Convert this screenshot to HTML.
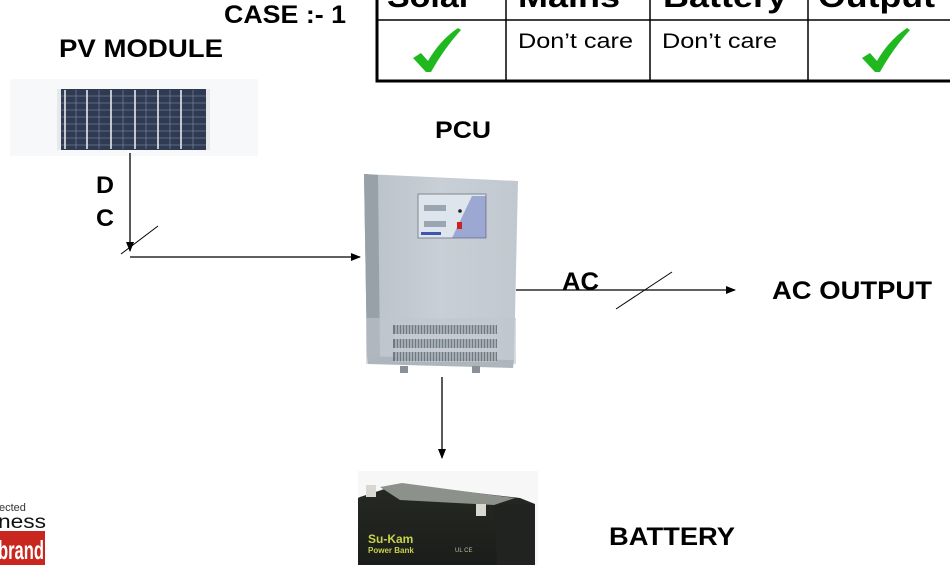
<!DOCTYPE html>
<html><head><meta charset="utf-8"><style>
html,body{margin:0;padding:0;background:#fff;}
svg{display:block;}
text{font-family:"Liberation Sans",Arial,sans-serif;}
</style></head><body>
<svg width="950" height="565" viewBox="0 0 950 565" xmlns="http://www.w3.org/2000/svg">
<defs>
<marker id="ah" markerWidth="10" markerHeight="8" refX="9" refY="4" orient="auto" markerUnits="userSpaceOnUse">
<path d="M0,0 L10,4 L0,8 Z" fill="#000"/>
</marker>
<linearGradient id="cab" x1="0" y1="0" x2="1" y2="0">
<stop offset="0" stop-color="#a3acb4"/><stop offset="0.1" stop-color="#bcc4cc"/><stop offset="0.5" stop-color="#c8cfd6"/><stop offset="1" stop-color="#c1c8cf"/>
</linearGradient>
<linearGradient id="bat" x1="0" y1="0" x2="0" y2="1">
<stop offset="0" stop-color="#262924"/><stop offset="1" stop-color="#1a1d19"/>
</linearGradient>
</defs>
<rect width="950" height="565" fill="#fff"/>

<!-- Table -->
<g>
<text x="387" y="7" font-size="31" font-weight="bold" textLength="85" lengthAdjust="spacingAndGlyphs">Solar</text>
<text x="518" y="7" font-size="31" font-weight="bold" textLength="102" lengthAdjust="spacingAndGlyphs">Mains</text>
<text x="663" y="7" font-size="31" font-weight="bold" textLength="124" lengthAdjust="spacingAndGlyphs">Battery</text>
<text x="818" y="7" font-size="31" font-weight="bold" textLength="117" lengthAdjust="spacingAndGlyphs">Output</text>
<rect x="377" y="-10" width="590" height="91" fill="none" stroke="#000" stroke-width="3"/>
<line x1="377" y1="20" x2="950" y2="20" stroke="#000" stroke-width="1.5"/>
<line x1="506" y1="0" x2="506" y2="81" stroke="#000" stroke-width="1.5"/>
<line x1="650" y1="0" x2="650" y2="81" stroke="#000" stroke-width="1.5"/>
<line x1="808" y1="0" x2="808" y2="81" stroke="#000" stroke-width="1.5"/>
<text x="518" y="48" font-size="21" textLength="115" lengthAdjust="spacingAndGlyphs">Don’t care</text>
<text x="662" y="48" font-size="21" textLength="115" lengthAdjust="spacingAndGlyphs">Don’t care</text>
<path d="M413,58 L421,53 L428,61 C436,47 446,36 458,28 L461,30 C450,42 440,56 431,72 L426,72 Z" fill="#1fb81f"/>
<path d="M862,58 L870,53 L877,61 C885,47 895,36 907,28 L910,30 C899,42 889,56 880,72 L875,72 Z" fill="#1fb81f"/>
</g>

<!-- Labels -->
<text x="224" y="23" font-size="25" font-weight="bold" textLength="122" lengthAdjust="spacingAndGlyphs">CASE :- 1</text>
<text x="59" y="57" font-size="25" font-weight="bold" textLength="164" lengthAdjust="spacingAndGlyphs">PV MODULE</text>
<text x="435" y="138" font-size="24" font-weight="bold" textLength="56" lengthAdjust="spacingAndGlyphs">PCU</text>
<text x="96" y="193" font-size="24" font-weight="bold" textLength="18" lengthAdjust="spacingAndGlyphs">D</text>
<text x="96" y="226" font-size="24" font-weight="bold" textLength="18" lengthAdjust="spacingAndGlyphs">C</text>
<text x="562" y="290" font-size="25" font-weight="bold" textLength="37" lengthAdjust="spacingAndGlyphs">AC</text>
<text x="772" y="299" font-size="25" font-weight="bold" textLength="160" lengthAdjust="spacingAndGlyphs">AC OUTPUT</text>
<text x="609" y="545" font-size="25" font-weight="bold" textLength="126" lengthAdjust="spacingAndGlyphs">BATTERY</text>

<!-- PV module -->
<rect x="10" y="79" width="248" height="77" fill="#f7f8f9"/>
<rect x="57" y="89" width="153" height="61" fill="#2f3b52"/>
<rect x="57" y="89" width="4" height="61" fill="#e8e8ea"/>
<rect x="206" y="89" width="4" height="61" fill="#e8e8ea"/>
<g stroke="#6d7891" stroke-width="0.7">
<line x1="61" y1="96" x2="206" y2="96"/><line x1="61" y1="103" x2="206" y2="103"/><line x1="61" y1="110" x2="206" y2="110"/><line x1="61" y1="117" x2="206" y2="117"/><line x1="61" y1="124" x2="206" y2="124"/><line x1="61" y1="131" x2="206" y2="131"/><line x1="61" y1="138" x2="206" y2="138"/><line x1="61" y1="145" x2="206" y2="145"/>
</g>
<g stroke="#e6e9ef" stroke-width="1.6">
<line x1="65" y1="90" x2="65" y2="149"/><line x1="87" y1="90" x2="87" y2="149"/><line x1="111" y1="90" x2="111" y2="149"/><line x1="135" y1="90" x2="135" y2="149"/><line x1="158" y1="90" x2="158" y2="149"/><line x1="181" y1="90" x2="181" y2="149"/>
</g>
<g stroke="#8790a8" stroke-width="0.6">
<line x1="76" y1="90" x2="76" y2="149"/><line x1="99" y1="90" x2="99" y2="149"/><line x1="123" y1="90" x2="123" y2="149"/><line x1="146" y1="90" x2="146" y2="149"/><line x1="170" y1="90" x2="170" y2="149"/><line x1="193" y1="90" x2="193" y2="149"/>
</g>

<!-- DC connector -->
<line x1="130" y1="153" x2="130" y2="251" stroke="#000" stroke-width="1.3" marker-end="url(#ah)"/>
<line x1="121" y1="254" x2="158" y2="226" stroke="#000" stroke-width="1"/>
<line x1="130" y1="257" x2="360" y2="257" stroke="#000" stroke-width="1.3" marker-end="url(#ah)"/>

<!-- PCU cabinet -->
<path d="M364,174 L518,181 L514,360 L367,356 Z" fill="url(#cab)"/>
<path d="M364,174 L378,175 L380,358 L367,356 Z" fill="#98a1a8"/>
<rect x="366" y="318" width="150" height="46" fill="#c0c7ce" opacity="0.6"/>
<path d="M367,356 L514,360 L513,368 L368,364 Z" fill="#aeb6bd"/>
<rect x="418" y="194" width="68" height="44" fill="#dfe5ec" stroke="#7f8890" stroke-width="1"/>
<path d="M472,196 L486,196 L486,238 L452,238 Z" fill="#5a6ab8" opacity="0.5"/>
<rect x="424" y="205" width="22" height="6" fill="#9aa6b2"/>
<rect x="424" y="221" width="22" height="6" fill="#9aa6b2"/>
<circle cx="460" cy="211" r="1.8" fill="#222"/>
<rect x="457" y="222" width="5" height="7" fill="#c22"/>
<rect x="421" y="232" width="20" height="3" fill="#3d56b0"/>
<g fill="#55606a">
<rect x="393" y="325" width="104" height="9" opacity="0.75"/>
<rect x="393" y="339" width="104" height="9" opacity="0.75"/>
<rect x="393" y="352" width="104" height="9" opacity="0.75"/>
</g>
<g stroke="#c7cdd3" stroke-width="1.2">
<path d="M396,324 V362 M399,324 V362 M402,324 V362 M405,324 V362 M408,324 V362 M411,324 V362 M414,324 V362 M417,324 V362 M420,324 V362 M423,324 V362 M426,324 V362 M429,324 V362 M432,324 V362 M435,324 V362 M438,324 V362 M441,324 V362 M444,324 V362 M447,324 V362 M450,324 V362 M453,324 V362 M456,324 V362 M459,324 V362 M462,324 V362 M465,324 V362 M468,324 V362 M471,324 V362 M474,324 V362 M477,324 V362 M480,324 V362 M483,324 V362 M486,324 V362 M489,324 V362 M492,324 V362 M495,324 V362"/>
</g>
<rect x="400" y="366" width="8" height="7" fill="#8a9096"/>
<rect x="472" y="366" width="8" height="7" fill="#8a9096"/>

<!-- AC connector -->
<line x1="516" y1="290" x2="735" y2="290" stroke="#000" stroke-width="1.3" marker-end="url(#ah)"/>
<line x1="616" y1="309" x2="672" y2="272" stroke="#000" stroke-width="1"/>

<!-- Down arrow to battery -->
<line x1="442" y1="377" x2="442" y2="458" stroke="#000" stroke-width="1.3" marker-end="url(#ah)"/>

<!-- Battery -->
<rect x="358" y="471" width="180" height="94" fill="#f7f7f7"/>
<path d="M360,497 L400,484 L520,498 L535,504 L535,565 L358,565 L358,498 Z" fill="url(#bat)"/>
<path d="M380,487 L402,483 L515,498 L494,505 L400,500 Z" fill="#8d918c"/>
<path d="M494,505 L535,504 L535,565 L497,565 Z" fill="#20231f"/>
<rect x="366" y="485" width="10" height="12" fill="#d8d8d0"/>
<rect x="476" y="504" width="10" height="12" fill="#d8d8d0"/>
<text x="368" y="543" font-size="12" font-weight="bold" fill="#c9d24a">Su-Kam</text>
<text x="368" y="553" font-size="8" font-weight="bold" fill="#c9d24a">Power Bank</text>
<text x="455" y="552" font-size="6" fill="#b9bd9a">UL CE</text>

<!-- Logo bottom-left -->
<text x="-1" y="511" font-size="11" fill="#333">ected</text>
<text x="-2" y="528" font-size="19" fill="#111" textLength="48" lengthAdjust="spacingAndGlyphs">ness</text>
<rect x="0" y="531" width="45" height="34" fill="#c8261e"/>
<text x="-2" y="559" font-size="26" font-weight="bold" fill="#fff" font-family="Liberation Serif,serif" textLength="46" lengthAdjust="spacingAndGlyphs">brand</text>
</svg>
</body></html>
